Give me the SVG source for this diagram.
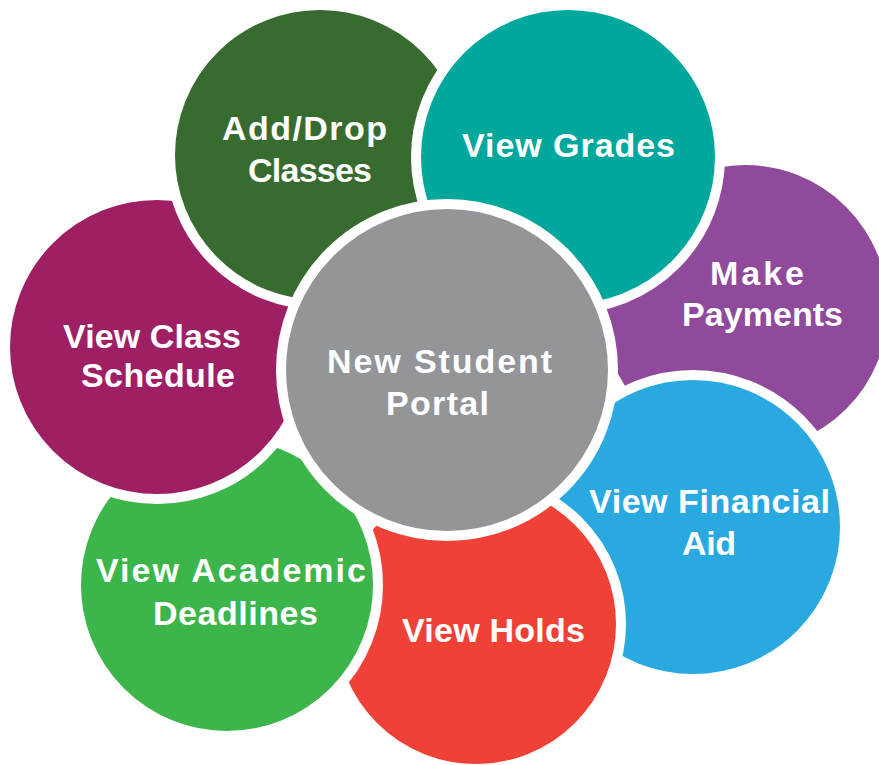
<svg xmlns="http://www.w3.org/2000/svg" width="879" height="765" viewBox="0 0 879 765">
  <style>
    .c { stroke: #ffffff; stroke-width: 10; }
    .t { font-family: "Liberation Sans", Arial, sans-serif; font-weight: bold; font-size: 34px; fill: #ffffff; text-anchor: middle; }
  </style>
  <rect width="879" height="765" fill="#ffffff"/>
  <g id="connectors"/>
  <g id="make-payments">
    <circle class="c" cx="745" cy="308" r="148" fill="#904A9B"/>
    <text class="t" x="757" y="285" textLength="94" lengthAdjust="spacing">Make</text>
    <text class="t" x="762.5" y="326" textLength="161" lengthAdjust="spacing">Payments</text>
  </g>
  <g id="view-financial-aid">
    <circle class="c" cx="693" cy="527" r="152" fill="#29A9E0"/>
    <text class="t" x="709.5" y="513" textLength="241" lengthAdjust="spacing">View Financial</text>
    <text class="t" x="709" y="555" textLength="54" lengthAdjust="spacing">Aid</text>
  </g>
  <g id="view-holds">
    <circle class="c" cx="476" cy="624" r="145" fill="#EF4136"/>
    <text class="t" x="493.5" y="642" textLength="183" lengthAdjust="spacing">View Holds</text>
  </g>
  <g id="view-academic-deadlines">
    <circle class="c" cx="227" cy="585" r="151" fill="#3CB54A"/>
    <text class="t" x="231" y="582" textLength="270" lengthAdjust="spacing">View Academic</text>
    <text class="t" x="235.5" y="625" textLength="165" lengthAdjust="spacing">Deadlines</text>
  </g>
  <g id="view-class-schedule">
    <circle class="c" cx="157" cy="347" r="152" fill="#9E1F63"/>
    <text class="t" x="152" y="348" textLength="178" lengthAdjust="spacing">View Class</text>
    <text class="t" x="158" y="387" textLength="154" lengthAdjust="spacing">Schedule</text>
  </g>
  <g id="add-drop-classes">
    <circle class="c" cx="320" cy="155" r="150" fill="#386B30"/>
    <text class="t" x="304.5" y="140" textLength="165" lengthAdjust="spacing">Add/Drop</text>
    <text class="t" x="310" y="182" textLength="124" lengthAdjust="spacing">Classes</text>
  </g>
  <g id="view-grades">
    <circle class="c" cx="568" cy="157" r="152" fill="#00A79D"/>
    <text class="t" x="568.5" y="157" textLength="213" lengthAdjust="spacing">View Grades</text>
  </g>
  <g id="new-student-portal">
    <circle class="c" cx="447" cy="370" r="166" fill="#939598"/>
    <text class="t" x="439.5" y="373" textLength="225" lengthAdjust="spacing">New Student</text>
    <text class="t" x="437.5" y="415" textLength="103" lengthAdjust="spacing">Portal</text>
  </g>
</svg>
